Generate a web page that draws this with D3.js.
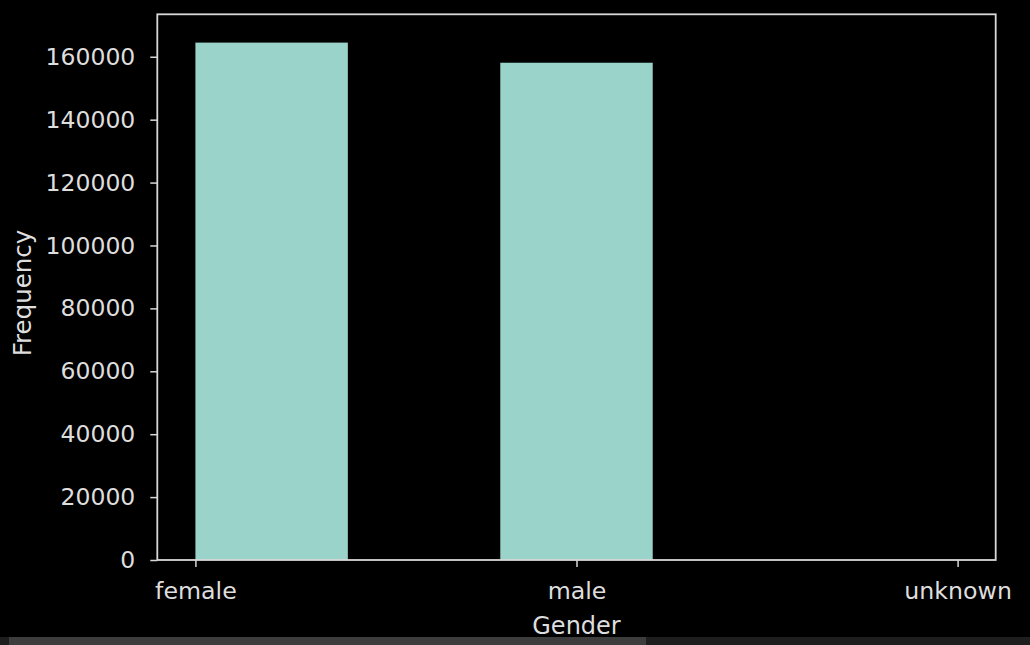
<!DOCTYPE html>
<html>
<head>
<meta charset="utf-8">
<script src="https://cdn.jsdelivr.net/npm/d3@7"></script>
<style>
  html, body { margin: 0; padding: 0; background: #000; overflow: hidden; }
  svg { display: block; }
  text { font-family: "DejaVu Sans", sans-serif; fill: #dedede; }
</style>
</head>
<body>
<svg id="chart"></svg>
<script>
// gender values mapped to 0,1,2 by hist, 5 bins over [0, 2]
const categories = ["female", "male", "unknown"];
const binEdges = [0, 0.4, 0.8, 1.2, 1.6, 2.0];
const binCounts = [164500, 0, 158100, 0, 0];
const yTicks = [0, 20000, 40000, 60000, 80000, 100000, 120000, 140000, 160000];
const yMax = 173500;

const W = 1030, H = 645;
const plot = { left: 157.3, right: 995.7, top: 14.3, bottom: 560 };

const svg = d3.select("#chart")
    .attr("width", W)
    .attr("height", H);

const x = d3.scaleLinear()
    .domain([-0.1, 2.1])
    .range([plot.left, plot.right]);

const y = d3.scaleLinear()
    .domain([0, yMax])
    .range([plot.bottom, plot.top]);

const bins = binCounts.map((c, i) => ({ x0: binEdges[i], x1: binEdges[i + 1], count: c }));

svg.append("g")
    .selectAll("rect")
    .data(bins.filter(d => d.count > 0))
    .enter()
    .append("rect")
    .attr("x", d => x(d.x0))
    .attr("y", d => y(d.count))
    .attr("width", d => x(d.x1) - x(d.x0))
    .attr("height", d => y(0) - y(d.count))
    .attr("fill", "#9ad3c9");

// axes
const xAxis = svg.append("g")
    .attr("transform", `translate(0,${plot.bottom})`)
    .call(d3.axisBottom(x).tickValues(d3.range(categories.length))
        .tickFormat(i => categories[i]).tickSize(7).tickPadding(15));

const yAxis = svg.append("g")
    .attr("transform", `translate(${plot.left},0)`)
    .call(d3.axisLeft(y).tickValues(yTicks).tickFormat(d3.format("d"))
        .tickSize(7).tickPadding(15));

[xAxis, yAxis].forEach(g => {
    g.select(".domain").remove();
    g.selectAll(".tick line").attr("stroke", "#d8d8d8").attr("stroke-width", 1.5);
    g.selectAll(".tick text")
        .attr("fill", "#dedede")
        .style("font-family", "DejaVu Sans, sans-serif");
});
xAxis.selectAll(".tick text").style("font-size", "23.7px");
yAxis.selectAll(".tick text").style("font-size", "23.5px");

// frame
svg.append("rect")
    .attr("x", plot.left)
    .attr("y", plot.top)
    .attr("width", plot.right - plot.left)
    .attr("height", plot.bottom - plot.top)
    .attr("fill", "none")
    .attr("stroke", "#d8d8d8")
    .attr("stroke-width", 1.8);

svg.append("text")
    .attr("x", (plot.left + plot.right) / 2)
    .attr("y", 634)
    .attr("text-anchor", "middle")
    .style("font-size", "24px")
    .text("Gender");

svg.append("text")
    .attr("transform", "translate(31,293) rotate(-90)")
    .attr("text-anchor", "middle")
    .style("font-size", "24.5px")
    .text("Frequency");

// notebook scrollbar strip
svg.append("rect").attr("x", 0).attr("y", 637).attr("width", W).attr("height", 8).attr("fill", "#1e1e1e");
svg.append("rect").attr("x", 9).attr("y", 637).attr("width", 637).attr("height", 8).attr("fill", "#3d3d3d");
</script>
</body>
</html>
